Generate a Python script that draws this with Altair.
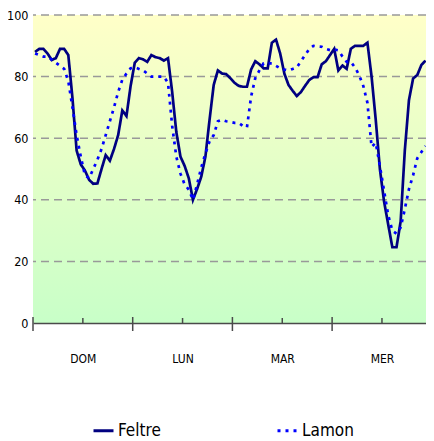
import altair as alt
import pandas as pd

# --- data (relative humidity %, hourly) ---
hours = [k + 0.5 for k in range(95)]
feltre = [88, 89, 89, 87.5, 85.4, 86, 89, 89, 87, 73,
          56, 51.5, 49.5, 46.5, 45.2, 45.3, 50, 54.5, 52.7, 56.5,
          61, 69, 67.2, 77, 84.5, 86, 85.6, 84.8, 87, 86.3,
          86, 85.2, 86, 75, 62, 54, 51, 47, 40, 43.5,
          47.5, 54, 66, 77.3, 82, 81, 80.8, 79.5, 78, 77,
          76.7, 76.7, 82.3, 85, 84, 82.7, 82.7, 91, 92, 87.5,
          81, 77.3, 75.4, 73.7, 75, 77, 78.9, 79.8, 79.8, 84,
          85, 87, 89, 82, 83.6, 82.5, 89, 90, 90, 90,
          91, 80, 66, 50, 39.5, 32, 24.6, 24.6, 33, 56,
          72.4, 79.4, 80.5, 83.8, 85.2]
lamon = [87.5, 87, 86.5, 86.5, 85.5, 84.5, 83.5, 82.5, 78.5, 70,
         61, 54, 48, 47, 50, 53, 56.5, 61, 65.5, 70,
         75, 79, 81, 82.7, 83, 82.5, 82, 81, 80, 80,
         80, 80, 78, 64, 54, 48.5, 45, 43.3, 40, 45,
         50.5, 55, 59, 61, 65.5, 66, 65.5, 65.3, 65, 65,
         64, 63.5, 73.5, 79.5, 82, 84.3, 84.3, 84.3, 83.5, 82.7,
         82.3, 82, 82.5, 83, 85, 87, 89, 90, 89.8, 89.7,
         89, 88.6, 88.8, 88.5, 86.5, 84.8, 84.8, 83, 80.5, 77,
         71.5, 57.2, 58.5, 51, 43, 35, 30, 29, 31, 37,
         43.5, 48, 53.5, 55.5, 57.5]
series_names = ["Feltre", "Lamon"]
series_colors = ["#000080", "#0000ff"]
day_labels = ["DOM", "LUN", "MAR", "MER"]
label_pos = [12, 36, 60, 84]
major_ticks = [0, 24, 48, 72]
minor_ticks = [12, 36, 60, 84]
y_ticks = [0, 20, 40, 60, 80, 100]
grid_vals = [20, 40, 60, 80, 100]

W, H = 393, 308
FONT = "DejaVu Sans Condensed, Liberation Sans Narrow, Liberation Sans, sans-serif"

df = pd.DataFrame({
    "t": hours * 2,
    "v": feltre + lamon,
    "s": ["Feltre"] * len(hours) + ["Lamon"] * len(hours),
})

xs = alt.Scale(domain=[0, 94.6], nice=False, zero=False)
ys = alt.Scale(domain=[0, 100], nice=False)

label_expr = " : ".join(
    f"datum.value == {p} ? '{l}'" for p, l in zip(label_pos, day_labels)
) + " : ''"

y_axis = alt.Axis(values=y_ticks, grid=False, ticks=False, domain=False,
                  labelPadding=5, labelFont=FONT, labelFontSize=12.5,
                  labelColor="#000000", title=None)

bg = alt.Chart(pd.DataFrame({"a": [0]})).mark_rect(
    fill=alt.Gradient(gradient="linear", x1=0, x2=0, y1=0, y2=1,
                      stops=[alt.GradientStop(color="#ffffc8", offset=0),
                             alt.GradientStop(color="#c8ffc8", offset=1)])
).encode(x=alt.value(0), x2=alt.value(W), y=alt.value(0), y2=alt.value(H))

grid = alt.Chart(pd.DataFrame({"g": grid_vals})).mark_rule(
    color="#999999", strokeWidth=1.5, strokeDash=[8, 5]
).encode(y=alt.Y("g:Q", scale=ys, axis=y_axis))

lines = alt.Chart(df).mark_line(strokeWidth=2.7, clip=True).encode(
    x=alt.X("t:Q", scale=xs,
            axis=alt.Axis(values=label_pos, labelExpr=label_expr, ticks=False,
                          grid=False, domainColor="#4a4a4a", domainWidth=1.5,
                          labelPadding=30, labelFont=FONT, labelFontSize=12,
                          labelColor="#000000", title=None, zindex=1)),
    y=alt.Y("v:Q", scale=ys, axis=y_axis),
    color=alt.Color("s:N", scale=alt.Scale(domain=series_names, range=series_colors),
                    legend=alt.Legend(title=None, orient="none", legendX=59, legendY=404,
                                      direction="horizontal", columns=2,
                                      columnPadding=110, symbolType="stroke",
                                      symbolSize=400, symbolStrokeWidth=3,
                                      labelFont=FONT, labelFontSize=17,
                                      labelColor="#000000", labelOffset=3)),
    strokeDash=alt.StrokeDash("s:N", scale=alt.Scale(domain=series_names,
                                                     range=[[1, 0], [3, 5]]),
                              legend=alt.Legend(title=None)),
)

major = alt.Chart(pd.DataFrame({"t": major_ticks})).mark_rule(
    color="#4a4a4a", strokeWidth=1.5
).encode(x=alt.X("t:Q", scale=xs), y=alt.value(H - 6), y2=alt.value(H + 8))

minor = alt.Chart(pd.DataFrame({"t": minor_ticks})).mark_rule(
    color="#4a4a4a", strokeWidth=1.5
).encode(x=alt.X("t:Q", scale=xs), y=alt.value(H - 5), y2=alt.value(H))

chart = alt.layer(bg, grid, lines, major, minor).properties(
    width=W, height=H,
    autosize=alt.AutoSizeParams(type="none"),
    padding={"left": 25, "top": 7, "right": 0, "bottom": 118},
).configure_view(stroke=None)

chart.save("out.html", embed_options={"renderer": "svg", "actions": False})
